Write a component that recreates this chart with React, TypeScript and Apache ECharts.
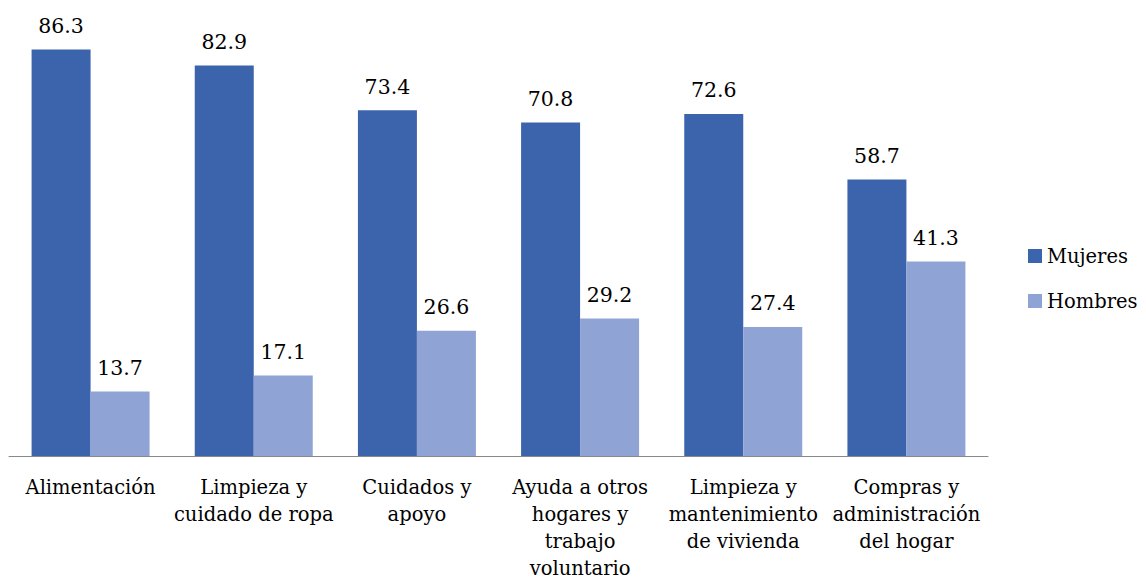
import React, { useEffect, useRef } from "react";
import * as echarts from "echarts";

const categories = [
  "Alimentación",
  "Limpieza y\ncuidado de ropa",
  "Cuidados y\napoyo",
  "Ayuda a otros\nhogares y\ntrabajo\nvoluntario",
  "Limpieza y\nmantenimiento\nde vivienda",
  "Compras y\nadministración\ndel hogar",
];
const mujeres = [86.3, 82.9, 73.4, 70.8, 72.6, 58.7];
const hombres = [13.7, 17.1, 26.6, 29.2, 27.4, 41.3];

const FONT = "DejaVu Serif";

export default function App() {
  const ref = useRef<HTMLDivElement>(null);

  useEffect(() => {
    if (!ref.current) return;
    const chart = echarts.init(ref.current, undefined, { renderer: "svg" });
    const labelStyle = {
      show: true,
      position: "top" as const,
      distance: 13,
      color: "#000",
      fontFamily: FONT,
      fontSize: 20.5,
      formatter: (p: any) => Number(p.value).toFixed(1),
    };
    chart.setOption({
      animation: false,
      textStyle: { fontFamily: FONT },
      grid: { left: 9, right: 158, top: 32, bottom: 120, containLabel: false },
      legend: {
        orient: "vertical",
        left: 1028,
        top: 246,
        padding: 0,
        itemWidth: 14,
        itemHeight: 14,
        itemGap: 25,
        icon: "rect",
        textStyle: { fontFamily: FONT, fontSize: 19.5, color: "#000" },
        data: ["Mujeres", "Hombres"],
      },
      xAxis: {
        type: "category",
        data: categories,
        axisLine: { show: true, lineStyle: { color: "#898989", width: 1 } },
        axisTick: { show: false },
        axisLabel: {
          interval: 0,
          margin: 18,
          color: "#000",
          fontFamily: FONT,
          fontSize: 19.5,
          lineHeight: 27,
          align: "center",
        },
      },
      yAxis: {
        type: "value",
        min: 0,
        max: 90,
        show: false,
        splitLine: { show: false },
      },
      series: [
        {
          name: "Mujeres",
          type: "bar",
          data: mujeres,
          barWidth: 59,
          barGap: "0%",
          itemStyle: { color: "#3C64AC" },
          label: labelStyle,
        },
        {
          name: "Hombres",
          type: "bar",
          data: hombres,
          barWidth: 59,
          barGap: "0%",
          itemStyle: { color: "#8FA3D4" },
          label: labelStyle,
        },
      ],
    });
    return () => chart.dispose();
  }, []);

  return (
    <div
      ref={ref}
      style={{ position: "fixed", left: 0, top: 0, width: 1146, height: 582, background: "#fff" }}
    />
  );
}
